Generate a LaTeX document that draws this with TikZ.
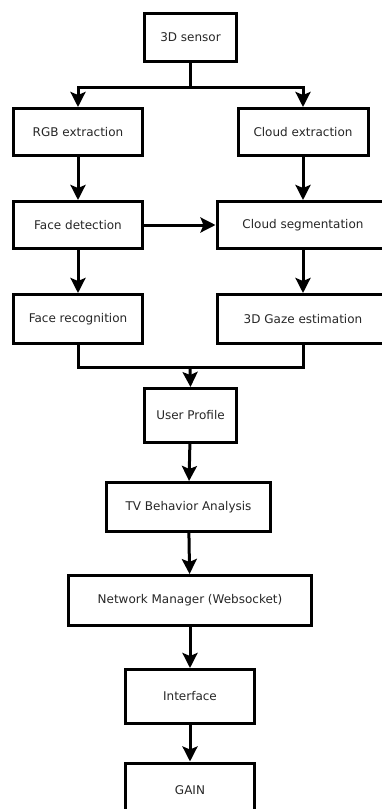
\documentclass[tikz,border=0pt]{standalone}
\usepackage{fontspec}
\setmainfont{DejaVu Sans}
\usetikzlibrary{arrows.meta}

\begin{document}
\begin{tikzpicture}[x=1pt, y=-1pt, inner sep=0pt]
		\tikzstyle{every node}=[align=center, font=\fontsize{12}{14}\selectfont, text=black!85]
		\tikzstyle{block}=[draw, line width=3pt, rectangle]
		\tikzstyle{flow}=[line width=3pt, -{Stealth[length=15pt, width=15pt, inset=3pt]}]
		\useasboundingbox (0, 0) rectangle (382, 809);
			\node[block, minimum width=92, minimum height=48] (sensor) at (190.5, 37.5) {3D sensor};
			\node[block, minimum width=129, minimum height=47] (rgb) at (78, 132) {RGB extraction};
			\node[block, minimum width=130, minimum height=47] (cloudext) at (303, 132) {Cloud extraction};
			\node[block, minimum width=129, minimum height=47] (face) at (78, 225) {Face detection};
			\node[block, minimum width=172, minimum height=47] (cloudseg) at (303, 225) {Cloud segmentation};
			\node[block, minimum width=129, minimum height=49] (facerec) at (78, 319) {Face recognition};
			\node[block, minimum width=172, minimum height=49] (gaze) at (303, 319) {3D Gaze estimation};
			\node[block, minimum width=92, minimum height=54] (profile) at (190.5, 415.5) {User Profile};
			\node[block, minimum width=164, minimum height=49] (tv) at (188.5, 507) {TV Behavior Analysis};
			\node[block, minimum width=243, minimum height=50] (network) at (190, 600.5) {Network Manager (Websocket)};
			\node[block, minimum width=129, minimum height=54] (interface) at (190, 696.5) {Interface};
			\node[block, minimum width=129, minimum height=54] (gain) at (190, 790) {GAIN};

			\coordinate (split) at (190.5, 87);
			\coordinate (merge) at (190, 367);

			\draw[line width=3pt] (sensor.south) -- (split);
			\draw[flow] (split) -| (rgb.north);
			\draw[flow] (split) -| (cloudext.north);
			\draw[flow] (rgb) -- (face);
			\draw[flow] (cloudext) -- (cloudseg);
			\draw[flow] (face) -- (cloudseg);
			\draw[flow] (face) -- (facerec);
			\draw[flow] (cloudseg) -- (gaze);
			\draw[line width=3pt] (facerec.south) |- (merge) -| (gaze.south);
			\draw[flow] (merge) -- (profile.north);
			\draw[flow] (profile) -- (tv);
			\draw[flow] (tv) -- (network);
			\draw[flow] (network) -- (interface);
			\draw[flow] (interface) -- (gain);
		\end{tikzpicture}
\end{document}
